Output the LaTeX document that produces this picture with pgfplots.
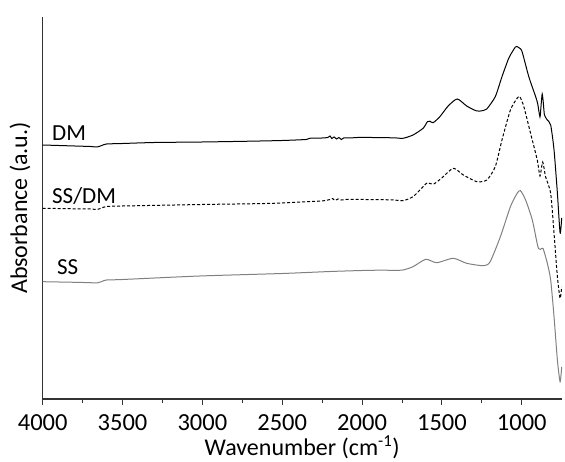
\documentclass[border=0pt]{standalone}
\usepackage{pgfplots}
\pgfplotsset{compat=1.18}
\usepackage{fontspec}
\setmainfont{Carlito}
\usetikzlibrary{calc}
\begin{document}
\begin{tikzpicture}
\begin{axis}[
  name=a,
  scale only axis,
  width=519pt, height=382pt,
  x dir=reverse,
  xmin=750, xmax=4000,
  ymin=-399, ymax=-17,
  axis x line*=bottom,
  axis y line*=left,
  axis line style={black!80, line width=1.2pt},
  xtick={1000,1500,2000,2500,3000,3500,4000},
  minor x tick num=1,
  ytick=\empty,
  tick align=outside,
  major tick length=6pt,
  minor tick length=4pt,
  every tick/.style={black!80, line width=1pt},
  /pgf/number format/assume math mode=true,
  /pgf/number format/1000 sep={},
  xticklabel style={font=\fontsize{24.5}{28}\selectfont, anchor=north, inner sep=0pt, yshift=-9pt},
  label style={font=\fontsize{24}{28}\selectfont},
  xlabel={Wavenumber (cm\textsuperscript{-1})},
  xlabel style={at={(axis description cs:0.5,0)}, anchor=south, inner sep=0pt, yshift=-60.5pt},
  ylabel={Absorbance (a.u.)},
  ylabel style={at={(axis description cs:-0.03,0.5)}, anchor=base, inner sep=0pt},
  clip=false,
]
\addplot[black, line width=1pt, smooth, tension=0.4] coordinates {
(4000,-145) (3900,-145.5) (3800,-146) (3700,-146.5) (3660,-147) (3630,-145.5) (3600,-144)
(3500,-143.5) (3300,-142.5) (3000,-142) (2700,-141.2) (2500,-140.5) (2350,-139.5)
(2330,-138.3) (2250,-138) (2215,-137.5) (2200,-136) (2190,-138.5) (2175,-137)
(2160,-139) (2145,-137.5) (2130,-139.5) (2115,-138) (2080,-138) (2000,-137.3)
(1892,-137.7) (1800,-137.8) (1744,-138.3) (1681,-135) (1618,-128.3) (1591,-121.7)
(1575,-121.2) (1555,-122.7) (1513,-116.7) (1461,-106) (1404,-99) (1345,-106)
(1282,-111) (1240,-110.5) (1219,-109) (1166,-96.7) (1124,-76.7) (1082,-58.3)
(1060,-52) (1040,-47) (1030,-46.5) (1015,-48) (998,-51.7) (956,-76.7) (913,-96.7)
(900,-104) (886,-117) (879,-105) (872,-94) (865,-103) (858,-115) (840,-120)
(819,-125) (798,-150) (777,-193) (760,-233) (750,-218)
};
\addplot[black, line width=1pt, dash pattern=on 3pt off 2pt, smooth, tension=0.4] coordinates {
(4000,-208.3) (3800,-208.8) (3700,-209) (3660,-209.5) (3630,-208) (3600,-206.5) (3500,-206)
(3000,-204.5) (2663,-203.7) (2500,-203) (2350,-201.7) (2250,-201) (2200,-199.5)
(2185,-198.5) (2170,-200.5) (2150,-199) (2130,-200) (2100,-199.5) (2000,-199.5)
(1892,-199.6) (1800,-200) (1744,-200.7) (1681,-196.7) (1618,-186.7) (1591,-182.7)
(1555,-184.3) (1503,-178.3) (1429,-168.3) (1366,-175) (1282,-181.7) (1219,-180)
(1166,-166.7) (1124,-140) (1071,-110) (1029,-98.3) (1012,-96.7) (987,-106.7)
(945,-133.3) (903,-160) (886,-176) (869,-162) (851,-176.7) (819,-193.3)
(798,-233.3) (777,-276.7) (760,-298.3) (750,-287)
};
\addplot[gray, line width=1pt, smooth, tension=0.4] coordinates {
(4000,-281.7) (3800,-282.3) (3700,-282.7) (3660,-283) (3630,-281.5) (3600,-280) (3500,-279.5)
(3016,-276) (2500,-273.5) (2200,-271.5) (2000,-270.5) (1892,-270.2) (1800,-270.3) (1744,-270)
(1681,-266.7) (1601,-259.3) (1533,-262.7) (1429,-258.3) (1345,-263.3) (1239,-265.7)
(1198,-261.7) (1134,-236.7) (1071,-206.7) (1029,-193.3) (1008,-190.7) (976,-200)
(934,-220) (899,-246.7) (882,-249.3) (867,-248.3) (840,-263.3) (819,-280)
(798,-316.7) (777,-360) (760,-381.7) (750,-367)
};
\node[anchor=base west, inner sep=0pt, font=\fontsize{23}{27}\selectfont] at (axis cs:3942,-140.7) {DM};
\node[anchor=base west, inner sep=0pt, font=\fontsize{23}{27}\selectfont] at (axis cs:3942,-203.3) {SS/DM};
\node[anchor=base west, inner sep=0pt, font=\fontsize{23}{27}\selectfont] at (axis cs:3911,-275) {SS};
\end{axis}
\path ($(a.south west)+(-42.7pt,-63pt)$) rectangle ($(a.north east)+(3.3pt,17pt)$);
\end{tikzpicture}
\end{document}
